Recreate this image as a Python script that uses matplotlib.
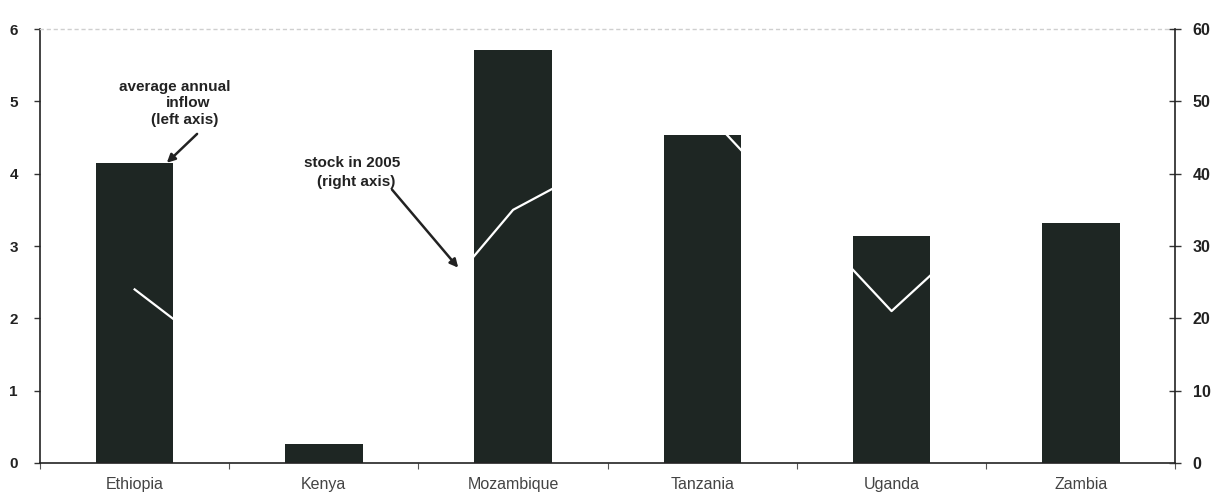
import matplotlib
matplotlib.use("Agg")
import matplotlib.pyplot as plt
import numpy as np

plt.rcParams['font.family'] = ['Liberation Sans', 'DejaVu Sans']

# data
countries = ["Ethiopia", "Kenya", "Mozambique", "Tanzania", "Uganda", "Zambia"]
inflow = [4.15, 0.26, 5.71, 4.54, 3.14, 3.32]      # left axis, bars
stock_2005 = [24, 4, 35, 49, 21, 45]               # right axis, line
left_ticks = [0, 1, 2, 3, 4, 5, 6]
right_ticks = [0, 10, 20, 30, 40, 50, 60]

fig = plt.figure(figsize=(12.13, 4.92), dpi=100)
ax = fig.add_axes([0.033, 0.059, 0.936, 0.882])
x = np.arange(len(countries))

ax.bar(x, inflow, width=0.41, color='#1e2623', zorder=2)
ax.set_xlim(-0.5, len(countries) - 0.5)
ax.set_ylim(0, 6)
ax.set_yticks(left_ticks)
ax.set_yticklabels([str(t) for t in left_ticks], fontsize=11, fontweight='bold', color='#222')
ax.tick_params(axis='y', direction='out', length=4, width=1, color='#333', pad=12)

ax.set_xticks(x)
ax.set_xticklabels(countries, fontsize=11.5, color='#444')
ax.tick_params(axis='x', length=0, pad=10)
ax.set_xticks(np.arange(len(countries) + 1) - 0.5, minor=True)
ax.tick_params(axis='x', which='minor', direction='out', length=4, width=0.8, color='#555')

for side in ['left', 'bottom']:
    ax.spines[side].set_color('#222')
    ax.spines[side].set_linewidth(1.2)
ax.spines['right'].set_visible(False)
ax.spines['top'].set_color('#cfcfcf')
ax.spines['top'].set_linestyle((0, (2, 3)))
ax.spines['top'].set_linewidth(1)

ax2 = ax.twinx()
ax2.plot(x, stock_2005, color='white', linewidth=1.6, zorder=3)
ax2.set_ylim(0, 60)
ax2.set_yticks(right_ticks)
ax2.set_yticklabels([str(t) for t in right_ticks], fontsize=11.5, fontweight='bold', color='#222')
ax2.tick_params(axis='y', direction='inout', length=9, width=1, color='#333', pad=8)
for side in ['left', 'top', 'bottom']:
    ax2.spines[side].set_visible(False)
ax2.spines['right'].set_color('#222')
ax2.spines['right'].set_linewidth(1.2)

# annotation labels
lab = dict(ha='center', va='center', fontsize=11, fontweight='bold', color='#222')
ax.text(0.214, 5.20, "average annual", **lab)
ax.text(0.283, 4.98, "inflow", **lab)
ax.text(0.262, 4.74, "(left axis)", **lab)
ax.text(1.151, 4.15, "stock in 2005", **lab)
ax.text(1.172, 3.89, "(right axis)", **lab)

# arrows
arrow = dict(arrowstyle='-|>', color='#222', lw=1.8, mutation_scale=12, shrinkA=0, shrinkB=0)
ax.annotate("", xy=(0.17, 4.15), xytext=(0.33, 4.55), arrowprops=arrow)
ax.annotate("", xy=(1.71, 2.70), xytext=(1.36, 3.78), arrowprops=arrow)

fig.savefig("out.png", dpi=100)
